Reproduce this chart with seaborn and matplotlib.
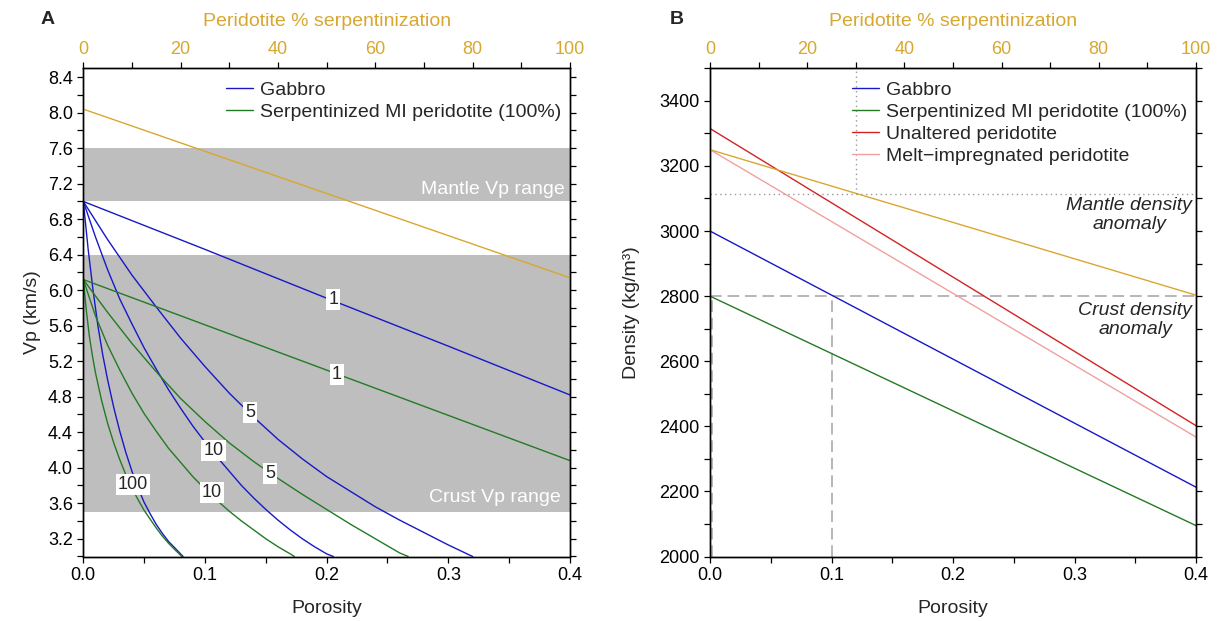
import numpy as np
import pandas as pd
import seaborn as sns
import matplotlib.pyplot as plt
from matplotlib.lines import Line2D
from matplotlib.ticker import MultipleLocator, FormatStrFormatter

# ---------------- Panel A data: Vp vs porosity (labels = aspect ratio) ----------------
gab_ar1_phi = [0.0, 0.1, 0.2, 0.3, 0.4]
gab_ar1_vp = [7.0, 6.46, 5.91, 5.37, 4.82]
gab_ar5_phi = [0.0, 0.02, 0.04, 0.06, 0.08, 0.1, 0.12, 0.14, 0.16, 0.18, 0.2, 0.22,
               0.24, 0.26, 0.28, 0.3, 0.32]
gab_ar5_vp = [7.0, 6.57, 6.17, 5.81, 5.46, 5.14, 4.84, 4.57, 4.32, 4.10, 3.90, 3.73,
              3.56, 3.41, 3.27, 3.13, 3.0]
gab_ar10_phi = [0.0, 0.01, 0.02, 0.03, 0.04, 0.05, 0.06, 0.07, 0.08, 0.09, 0.1, 0.11,
                0.12, 0.13, 0.14, 0.15, 0.16, 0.17, 0.18, 0.19, 0.2, 0.2055]
gab_ar10_vp = [7.0, 6.60, 6.23, 5.90, 5.62, 5.35, 5.11, 4.88, 4.67, 4.47, 4.29, 4.12,
               3.96, 3.80, 3.66, 3.53, 3.41, 3.30, 3.20, 3.11, 3.03, 3.0]
gab_ar100_phi = [0.0, 0.004, 0.008, 0.012, 0.016, 0.02, 0.025, 0.03, 0.035, 0.04, 0.045,
                 0.05, 0.055, 0.06, 0.065, 0.07, 0.075, 0.082]
gab_ar100_vp = [7.0, 6.46, 6.0, 5.6, 5.27, 4.99, 4.68, 4.41, 4.17, 3.96, 3.77, 3.61,
                3.48, 3.36, 3.26, 3.17, 3.1, 3.0]

serp_ar1_phi = [0.0, 0.1, 0.2, 0.3, 0.4]
serp_ar1_vp = [6.12, 5.61, 5.10, 4.59, 4.08]
serp_ar5_phi = [0.0, 0.02, 0.04, 0.06, 0.08, 0.1, 0.12, 0.14, 0.16, 0.18, 0.2, 0.22,
                0.24, 0.26, 0.267]
serp_ar5_vp = [6.12, 5.75, 5.40, 5.08, 4.78, 4.52, 4.28, 4.07, 3.88, 3.70, 3.53, 3.36,
               3.20, 3.04, 3.0]
serp_ar10_phi = [0.0, 0.01, 0.02, 0.03, 0.04, 0.05, 0.06, 0.07, 0.08, 0.09, 0.1, 0.11,
                 0.12, 0.13, 0.14, 0.15, 0.16, 0.17, 0.1735]
serp_ar10_vp = [6.12, 5.71, 5.38, 5.10, 4.84, 4.61, 4.41, 4.22, 4.06, 3.90, 3.76, 3.63,
                3.51, 3.40, 3.30, 3.20, 3.11, 3.03, 3.0]
serp_ar100_phi = [0.0, 0.0025, 0.005, 0.0075, 0.01, 0.015, 0.02, 0.025, 0.03, 0.035,
                  0.04, 0.045, 0.05, 0.055, 0.06, 0.065, 0.07, 0.075, 0.081]
serp_ar100_vp = [6.12, 5.77, 5.48, 5.26, 5.07, 4.76, 4.50, 4.28, 4.09, 3.92, 3.77,
                 3.64, 3.52, 3.42, 3.32, 3.23, 3.15, 3.08, 3.0]

# peridotite Vp vs % serpentinization (top axis)
serp_pct = [0, 100]
perid_vp = [8.04, 6.14]

mantle_vp_range = (7.0, 7.6)
crust_vp_range = (3.5, 6.4)

# contour-style labels: (porosity, Vp, text)
curve_labels = [(0.2055, 5.90, '1'), (0.2083, 5.05, '1'), (0.137, 4.62, '5'),
                (0.107, 4.19, '10'), (0.1535, 3.94, '5'), (0.1055, 3.72, '10'),
                (0.041, 3.81, '100')]

# ---------------- Panel B data: density vs porosity ----------------
dens_phi = [0.0, 0.4]
gab_rho = [3000, 2213]
serp_rho = [2800, 2095]
unalt_rho = [3315, 2402]
melt_rho = [3250, 2367]
perid_rho = [3250, 2803]   # vs % serpentinization

mantle_rho_anom = 3115
crust_rho_anom = 2800

colors = {'Gabbro': '#1818c8', 'Serpentinized MI peridotite (100%)': '#237a23',
          'Unaltered peridotite': '#d42222', 'Melt\u2212impregnated peridotite': '#f0a0a0'}
gold = '#d8a730'
FS = 14      # labels / legend / annotations
TFS = 13     # tick labels

sns.set_theme(style='ticks')
plt.rcParams['font.family'] = ['Liberation Sans', 'DejaVu Sans']
plt.rcParams['font.size'] = FS
plt.rcParams['axes.linewidth'] = 1.0

# long tables for seaborn
parts = []
for rock, ar, phi, vp in [('Gabbro', 1, gab_ar1_phi, gab_ar1_vp), ('Gabbro', 5, gab_ar5_phi, gab_ar5_vp),
                          ('Gabbro', 10, gab_ar10_phi, gab_ar10_vp), ('Gabbro', 100, gab_ar100_phi, gab_ar100_vp),
                          ('Serpentinized MI peridotite (100%)', 1, serp_ar1_phi, serp_ar1_vp),
                          ('Serpentinized MI peridotite (100%)', 5, serp_ar5_phi, serp_ar5_vp),
                          ('Serpentinized MI peridotite (100%)', 10, serp_ar10_phi, serp_ar10_vp),
                          ('Serpentinized MI peridotite (100%)', 100, serp_ar100_phi, serp_ar100_vp)]:
    parts.append(pd.DataFrame({'Porosity': phi, 'Vp': vp, 'rock': rock, 'ar': ar}))
dfA = pd.concat(parts, ignore_index=True)

partsB = []
for rock, rho in [('Gabbro', gab_rho), ('Serpentinized MI peridotite (100%)', serp_rho),
                  ('Unaltered peridotite', unalt_rho), ('Melt\u2212impregnated peridotite', melt_rho)]:
    partsB.append(pd.DataFrame({'Porosity': dens_phi, 'Density': rho, 'rock': rock}))
dfB = pd.concat(partsB, ignore_index=True)

fig = plt.figure(figsize=(12.18, 6.21), dpi=100)
W, H = 1218, 621
axA = fig.add_axes([83.3 / W, 1 - 556.5 / H, 486.7 / W, 488.2 / H])
axB = fig.add_axes([710 / W, 1 - 556.5 / H, 486 / W, 488.2 / H])


def style_axes(ax, top):
    for a in (ax, top):
        a.tick_params(which='both', direction='out', length=4.5, width=0.9, pad=3,
                      labelsize=TFS, colors='black')
    ax.tick_params(which='both', right=True, left=True, top=False)
    top.tick_params(which='both', top=True, bottom=False, labelcolor=gold)
    top.set_xlim(0, 100)
    top.xaxis.set_major_locator(MultipleLocator(20))
    top.xaxis.set_minor_locator(MultipleLocator(10))
    top.set_xlabel('Peridotite % serpentinization', color=gold, fontsize=FS, labelpad=11)
    ax.set_xlim(0, 0.4)
    ax.xaxis.set_major_locator(MultipleLocator(0.1))
    ax.xaxis.set_minor_locator(MultipleLocator(0.05))
    ax.xaxis.set_major_formatter(FormatStrFormatter('%.1f'))
    ax.set_xlabel('Porosity', fontsize=FS, labelpad=11.5)
    for a in (ax, top):
        for s in a.spines.values():
            s.set_visible(True)
            s.set_linewidth(1.0)
            s.set_color('black')


# ---------------- Panel A ----------------
axA.axhspan(*mantle_vp_range, color='#bebebe', lw=0, zorder=0)
axA.axhspan(*crust_vp_range, color='#bebebe', lw=0, zorder=0)
sns.lineplot(data=dfA, x='Porosity', y='Vp', hue='rock', units='ar', estimator=None,
             palette=colors, linewidth=1.0, legend=False, sort=False, ax=axA)
for x, y, t in curve_labels:
    axA.text(x, y, t, ha='center', va='center', fontsize=TFS, zorder=5,
             bbox=dict(fc='white', ec='none', pad=1.4))
axA.text(0.396, 7.14, 'Mantle Vp range', color='white', ha='right', va='center', fontsize=FS)
axA.text(0.392, 3.67, 'Crust Vp range', color='white', ha='right', va='center', fontsize=FS)
axA.set_ylim(3.0, 8.5)
axA.yaxis.set_major_locator(MultipleLocator(0.4))
axA.yaxis.set_minor_locator(MultipleLocator(0.2))
axA.yaxis.set_major_formatter(FormatStrFormatter('%.1f'))
axA.set_ylabel('Vp (km/s)', fontsize=FS, labelpad=5)

topA = axA.twiny()
sns.lineplot(x=serp_pct, y=perid_vp, color=gold, linewidth=1.0, ax=topA)
style_axes(axA, topA)
axA.set_ylim(3.0, 8.5)

legend_kw = dict(loc='upper left', frameon=False, fontsize=FS, borderpad=0, borderaxespad=0,
                 handlelength=1.4, handletextpad=0.36, labelspacing=0.22)
handlesA = [Line2D([], [], color=colors['Gabbro'], lw=1.0),
            Line2D([], [], color=colors['Serpentinized MI peridotite (100%)'], lw=1.0)]
fig.legend(handlesA, ['Gabbro', 'Serpentinized MI peridotite (100%)'],
           bbox_to_anchor=(226 / W, 1 - 81.5 / H), **legend_kw)

# ---------------- Panel B ----------------
sns.lineplot(data=dfB, x='Porosity', y='Density', hue='rock', palette=colors,
             linewidth=1.0, legend=False, ax=axB)
dash = (0, (7, 3.5))
dot = (0, (1, 2.5))
axB.axhline(crust_rho_anom, color='#aaaaaa', lw=1.2, ls=dash, zorder=1)
axB.plot([0.1, 0.1], [2000, crust_rho_anom], color='#aaaaaa', lw=1.2, ls=dash, zorder=1)
axB.plot([0.0015, 0.0015], [2000, crust_rho_anom], color='#aaaaaa', lw=1.2, ls=dash, zorder=1)
axB.axhline(mantle_rho_anom, color='#999999', lw=1.0, ls=dot, zorder=1)
axB.text(0.345, 3049, 'Mantle density\nanomaly', style='italic', ha='center', va='center',
         fontsize=FS, linespacing=1.12)
axB.text(0.350, 2726, 'Crust density\nanomaly', style='italic', ha='center', va='center',
         fontsize=FS, linespacing=1.12)
axB.set_ylim(2000, 3500)
axB.yaxis.set_major_locator(MultipleLocator(200))
axB.yaxis.set_minor_locator(MultipleLocator(100))
axB.set_ylabel('Density (kg/m\u00b3)', fontsize=FS, labelpad=14)

topB = axB.twiny()
sns.lineplot(x=serp_pct, y=perid_rho, color=gold, linewidth=1.0, ax=topB)
topB.plot([30, 30], [mantle_rho_anom, 3500], color='#999999', lw=1.0, ls=dot)
style_axes(axB, topB)
axB.set_ylim(2000, 3500)

labelsB = ['Gabbro', 'Serpentinized MI peridotite (100%)', 'Unaltered peridotite',
           'Melt\u2212impregnated peridotite']
handlesB = [Line2D([], [], color=colors[k], lw=1.0) for k in labelsB]
fig.legend(handlesB, labelsB, bbox_to_anchor=(852 / W, 1 - 81.5 / H), **legend_kw)

fig.text(48 / W, 1 - 19 / H, 'A', fontsize=FS, fontweight='bold', ha='center', va='center')
fig.text(677 / W, 1 - 19 / H, 'B', fontsize=FS, fontweight='bold', ha='center', va='center')

fig.savefig('out.png', dpi=100)
